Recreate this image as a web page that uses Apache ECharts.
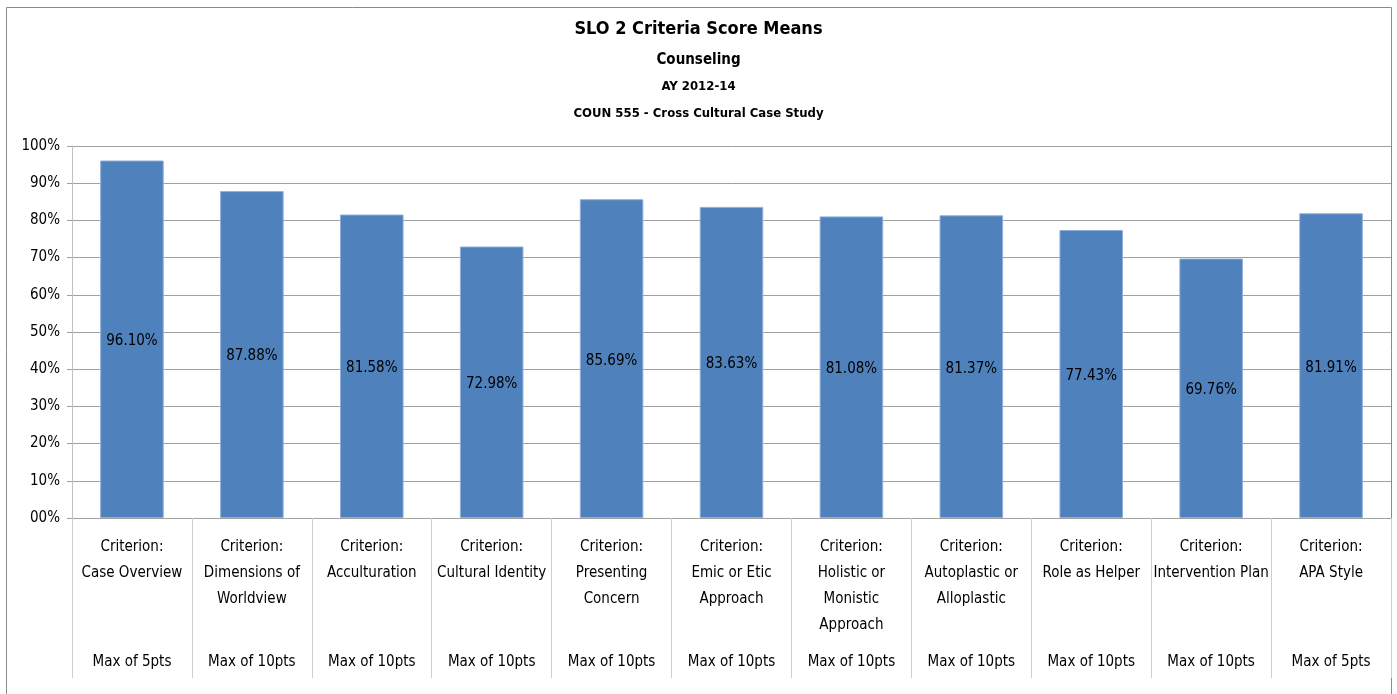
<!DOCTYPE html>
<html>
<head>
<meta charset="utf-8">
<script src="https://cdn.jsdelivr.net/npm/echarts@6/dist/echarts.min.js"></script>
<style>
  html, body { margin: 0; padding: 0; background: #fff; }
  #chart { width: 1397px; height: 694px; }
</style>
</head>
<body>
<div id="chart"></div>
<script>
const criteria = [
    'Criterion:\nCase Overview',
    'Criterion:\nDimensions of\nWorldview',
    'Criterion:\nAcculturation',
    'Criterion:\nCultural Identity',
    'Criterion:\nPresenting\nConcern',
    'Criterion:\nEmic or Etic\nApproach',
    'Criterion:\nHolistic or\nMonistic\nApproach',
    'Criterion:\nAutoplastic or\nAlloplastic',
    'Criterion:\nRole as Helper',
    'Criterion:\nIntervention Plan',
    'Criterion:\nAPA Style'
];
const maxPoints = [
    'Max of 5pts', 'Max of 10pts', 'Max of 10pts', 'Max of 10pts', 'Max of 10pts',
    'Max of 10pts', 'Max of 10pts', 'Max of 10pts', 'Max of 10pts', 'Max of 10pts', 'Max of 5pts'
];
const means = [96.10, 87.88, 81.58, 72.98, 85.69, 83.63, 81.08, 81.37, 77.43, 69.76, 81.91];
const titleLines = ['SLO 2 Criteria Score Means', 'Counseling', 'AY 2012-14', 'COUN 555 - Cross Cultural Case Study'];

const font = '"Liberation Sans Narrow", "DejaVu Sans Condensed", "Open Sans", sans-serif';

let chart = echarts.init(document.getElementById('chart'));
const option = {
    animation: false,
    textStyle: { fontFamily: font },
    graphic: [
        {
            type: 'rect',
            shape: { x: 6.5, y: 7.5, width: 1385, height: 700 },
            style: { fill: 'none', stroke: '#8a8a8a', lineWidth: 1 },
            silent: true
        }
    ],
    title: [
        { text: titleLines[0], left: 'center', top: 15, textStyle: { fontSize: 18, fontWeight: 'bold', color: '#000', fontFamily: font } },
        { text: titleLines[1], left: 'center', top: 48, textStyle: { fontSize: 15, fontWeight: 'bold', color: '#000', fontFamily: font } },
        { text: titleLines[2], left: 'center', top: 75, textStyle: { fontSize: 13, fontWeight: 'bold', color: '#000', fontFamily: font } },
        { text: titleLines[3], left: 'center', top: 102, textStyle: { fontSize: 13, fontWeight: 'bold', color: '#000', fontFamily: font } }
    ],
    grid: { left: 72, right: 6, top: 146, bottom: 176, containLabel: false },
    xAxis: [
        {
            type: 'category',
            data: criteria,
            position: 'bottom',
            axisLine: { show: true, lineStyle: { color: '#a0a0a0' } },
            axisTick: { show: true, interval: 0, length: 160, lineStyle: { color: '#cdcdcd' } },
            axisLabel: {
                interval: 0,
                margin: 16,
                fontSize: 15,
                lineHeight: 26,
                verticalAlign: 'top',
                color: '#000',
                fontFamily: font
            }
        },
        {
            type: 'category',
            data: maxPoints,
            position: 'bottom',
            offset: 137,
            axisLine: { show: false },
            axisTick: { show: false },
            axisLabel: { interval: 0, margin: 0, fontSize: 15, verticalAlign: 'top', color: '#000', fontFamily: font }
        }
    ],
    yAxis: {
        type: 'value',
        min: 0,
        max: 100,
        interval: 10,
        axisLine: { show: true, lineStyle: { color: '#c0c0c0' } },
        axisTick: { show: true, length: 5, lineStyle: { color: '#a0a0a0' } },
        splitLine: { show: true, lineStyle: { color: '#a0a0a0', width: 1 } },
        axisLabel: {
            margin: 12,
            fontSize: 15,
            color: '#000',
            fontFamily: font,
            formatter: function (v) { return (v < 10 ? '0' : '') + v + '%'; }
        }
    },
    series: [
        {
            type: 'bar',
            data: means,
            barWidth: '53%',
            itemStyle: { color: '#4f81bd', borderColor: '#8fb0d8', borderWidth: 1 },
            label: {
                show: true,
                position: 'inside',
                offset: [0, 2],
                fontSize: 15,
                color: '#000',
                fontFamily: font,
                formatter: function (p) { return p.value.toFixed(2) + '%'; }
            }
        }
    ]
};
chart.setOption(option);
</script>
</body>
</html>
